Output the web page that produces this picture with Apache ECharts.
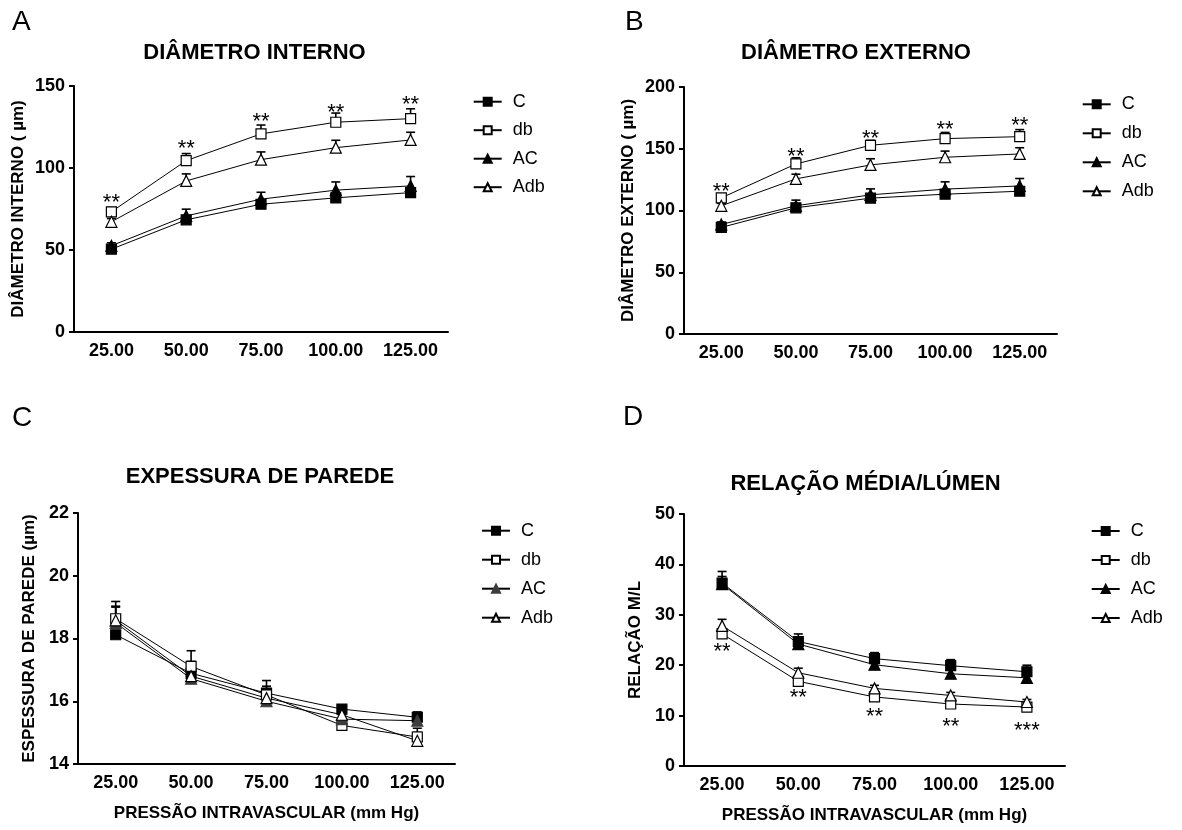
<!DOCTYPE html>
<html><head><meta charset="utf-8">
<script src="https://cdn.jsdelivr.net/npm/echarts@6/dist/echarts.min.js"></script>
<style>html,body{margin:0;padding:0;background:#fff}#chart{width:1182px;height:830px}</style>
</head><body><div id="chart"></div>
<script>
// ---------- DATA ----------
const pressures = ['25.00', '50.00', '75.00', '100.00', '125.00'];
const groups = ['C', 'db', 'AC', 'Adb'];

// Panel A – Diâmetro interno (µm): means and upper SEM
const aC = [50.5, 68.4, 77.9, 81.8, 85.0];
const aCErr = [1.5, 1.5, 1.5, 1.8, 2.0];
const aDb = [73.3, 104.5, 120.8, 127.9, 130.1];
const aDbErr = [2.6, 4.3, 5.4, 5.6, 6.0];
const aAC = [52.6, 70.8, 81.0, 86.5, 89.1];
const aACErr = [1.8, 4.1, 4.2, 5.0, 5.7];
const aAdb = [67.2, 92.1, 105.1, 112.4, 117.1];
const aAdbErr = [2.0, 4.3, 4.7, 4.5, 4.7];
const aStarY = [81.8, 114.5, 131.3, 136.6, 141.3];
const aStars = ['**', '**', '**', '**', '**'];

// Panel B – Diâmetro externo (µm)
const bC = [86.3, 102.2, 110.0, 113.2, 115.6];
const bCErr = [2.0, 3.0, 2.5, 2.5, 2.5];
const bDb = [110.2, 137.7, 152.8, 158.2, 159.8];
const bDbErr = [2.0, 5.0, 4.0, 5.0, 5.7];
const bAC = [88.7, 103.8, 112.7, 117.3, 119.9];
const bACErr = [2.0, 4.6, 4.8, 5.9, 6.0];
const bAdb = [103.8, 125.6, 136.9, 143.1, 145.8];
const bAdbErr = [2.0, 3.8, 5.0, 5.0, 5.0];
const bStarY = [119.1, 147.4, 162.3, 169.5, 172.5];
const bStars = ['**', '**', '**', '**', '**'];

// Panel C – Espessura de parede (µm)
const cC = [18.12, 16.89, 16.26, 15.75, 15.49];
const cCErr = [0.1, 0.38, 0.4, 0.1, 0.17];
const cDb = [18.63, 17.11, 16.2, 15.23, 14.86];
const cDbErr = [0.55, 0.5, 0.28, 0.1, 0.15];
const cAC = [18.5, 16.72, 16.0, 15.43, 15.38];
const cACErr = [0.5, 0.3, 0.25, 0.15, 0.2];
const cAdb = [18.58, 16.8, 16.1, 15.57, 14.74];
const cAdbErr = [0.45, 0.45, 0.3, 0.1, 0.4];

// Panel D – Relação M/L
const dC = [36.3, 24.7, 21.3, 19.9, 18.7];
const dCErr = [2.3, 1.5, 1.2, 1.2, 1.3];
const dDb = [26.2, 16.8, 13.7, 12.3, 11.7];
const dDbErr = [1.0, 0.8, 0.6, 0.5, 0.5];
const dAC = [36.1, 24.2, 20.1, 18.3, 17.5];
const dACErr = [1.5, 1.0, 0.8, 0.8, 0.8];
const dAdb = [27.8, 18.5, 15.4, 14.0, 12.7];
const dAdbErr = [1.3, 0.9, 0.6, 0.6, 0.5];
const dStarY = [23.7, 14.4, 10.8, 8.8, 8.0];
const dStars = ['**', '**', '**', '**', '***'];

// ---------- STYLE ----------
const FONT = 'Liberation Sans, Arial, Helvetica, sans-serif';
const styles = {
  C:   { symbol: 'rect', size: 10, fill: '#000' },
  db:  { symbol: 'rect', size: 10, fill: '#fff' },
  AC:  { symbol: 'triangle', size: 11, fill: '#000' },
  Adb: { symbol: 'triangle', size: 11, fill: '#fff' }
};

const chart = echarts.init(document.getElementById('chart'), null, { renderer: 'canvas' });

const grids = [
  { left: 74, top: 86, width: 374, height: 246 },
  { left: 684, top: 87, width: 373, height: 247 },
  { left: 78, top: 513, width: 377, height: 251 },
  { left: 684, top: 514, width: 381, height: 252 }
];

const yCfg = [
  { min: 0, max: 150, interval: 50, name: 'DIÂMETRO INTERNO ( µm)', gap: 47 },
  { min: 0, max: 200, interval: 50, name: 'DIÂMETRO EXTERNO ( µm)', gap: 47 },
  { min: 14, max: 22, interval: 2, name: 'ESPESSURA DE PAREDE (µm)', gap: 40 },
  { min: 0, max: 50, interval: 10, name: 'RELAÇÃO M/L', gap: 40 }
];

const axisLineStyle = { color: '#000', width: 2 };

const xAxes = grids.map((g, i) => ({
  type: 'category', gridIndex: i, data: pressures, boundaryGap: true,
  axisLine: { lineStyle: axisLineStyle },
  axisTick: { alignWithLabel: true, length: 5, lineStyle: { color: '#000', width: 2 } },
  axisLabel: { color: '#000', fontSize: 18, fontWeight: 'bold', fontFamily: FONT, margin: 10 },
  name: i >= 2 ? 'PRESSÃO INTRAVASCULAR (mm Hg)' : '',
  nameLocation: 'middle', nameGap: 41,
  nameTextStyle: { color: '#000', fontSize: 17, fontWeight: 'bold', fontFamily: FONT },
  splitLine: { show: false }
}));

const yAxes = yCfg.map((c, i) => ({
  type: 'value', gridIndex: i, min: c.min, max: c.max, interval: c.interval,
  axisLine: { show: true, lineStyle: axisLineStyle },
  axisTick: { show: true, length: 5, lineStyle: { color: '#000', width: 2 } },
  axisLabel: { color: '#000', fontSize: 18, fontWeight: 'bold', fontFamily: FONT, margin: 9 },
  splitLine: { show: false },
  name: c.name, nameLocation: 'middle', nameRotate: 90, nameGap: c.gap,
  nameTextStyle: { color: '#000', fontSize: 17, fontWeight: 'bold', fontFamily: FONT }
}));

const panels = [
  { C: [aC, aCErr], db: [aDb, aDbErr], AC: [aAC, aACErr], Adb: [aAdb, aAdbErr], starY: aStarY, stars: aStars },
  { C: [bC, bCErr], db: [bDb, bDbErr], AC: [bAC, bACErr], Adb: [bAdb, bAdbErr], starY: bStarY, stars: bStars },
  { C: [cC, cCErr], db: [cDb, cDbErr], AC: [cAC, cACErr], Adb: [cAdb, cAdbErr], starY: null, stars: null },
  { C: [dC, dCErr], db: [dDb, dDbErr], AC: [dAC, dACErr], Adb: [dAdb, dAdbErr], starY: dStarY, stars: dStars }
];

function errRender(params, api) {
  const i = api.value(0), m = api.value(1), e = api.value(2);
  const base = api.coord([i, m]);
  const top = api.coord([i, m + e]);
  return {
    type: 'group',
    children: [
      { type: 'line', shape: { x1: base[0], y1: base[1], x2: top[0], y2: top[1] }, style: { stroke: '#000', lineWidth: 1.6 } },
      { type: 'line', shape: { x1: top[0] - 4.5, y1: top[1], x2: top[0] + 4.5, y2: top[1] }, style: { stroke: '#000', lineWidth: 1.6 } }
    ]
  };
}

const series = [];
panels.forEach((p, pi) => {
  groups.forEach(gname => {
    const [vals, errs] = p[gname];
    series.push({
      type: 'custom', name: gname + '_err', xAxisIndex: pi, yAxisIndex: pi, z: 1,
      renderItem: errRender, silent: true,
      data: vals.map((v, i) => [i, v, errs[i]])
    });
  });
  groups.forEach(gname => {
    const st = styles[gname];
    const [vals] = p[gname];
    const gray = (pi === 2 && gname === 'AC');
    series.push({
      type: 'line', name: gname, xAxisIndex: pi, yAxisIndex: pi, z: 3,
      data: vals, symbol: st.symbol, symbolSize: st.size, showSymbol: true,
      lineStyle: { color: '#000', width: 1 },
      itemStyle: { color: gray ? '#3c3c3c' : st.fill, borderColor: gray ? '#3c3c3c' : '#000', borderWidth: 1.2 },
      emphasis: { disabled: true }, silent: true
    });
  });
  if (p.starY) {
    const labels = p.stars;
    series.push({
      type: 'custom', name: 'stars' + pi, xAxisIndex: pi, yAxisIndex: pi, z: 4, silent: true,
      data: p.starY.map((v, i) => [i, v]),
      renderItem: (params, api) => {
        const pt = api.coord([api.value(0), api.value(1)]);
        return { type: 'text', x: pt[0], y: pt[1] + 5,
          style: { text: labels[params.dataIndex], fill: '#000', fontSize: 22, fontFamily: FONT, align: 'center', verticalAlign: 'middle' } };
      }
    });
  }
});

function legend(left, top, gap, gray) {
  return {
    orient: 'vertical', left: left, top: top, itemWidth: 28, itemHeight: 10, itemGap: gap,
    padding: 0, selectedMode: false,
    data: groups.map(g => (gray && g === 'AC') ? { name: g, itemStyle: { color: '#3c3c3c', borderColor: '#3c3c3c' } } : g),
    textStyle: { color: '#000', fontSize: 18, fontFamily: FONT, lineHeight: 18, padding: [0, 0, 0, 6] }
  };
}

function txt(x, y, text, size, weight) {
  return { type: 'text', x: x, y: y, style: { text: text, fontSize: size, fontWeight: weight, fontFamily: FONT, fill: '#000', align: 'center', verticalAlign: 'middle' } };
}
function letter(x, y, text) {
  return { type: 'text', x: x, y: y, style: { text: text, fontSize: 28, fontFamily: FONT, fill: '#000', align: 'left', verticalAlign: 'middle' } };
}

chart.setOption({
  animation: false,
  backgroundColor: '#fff',
  grid: grids,
  xAxis: xAxes,
  yAxis: yAxes,
  legend: [
    legend(472.7, 92.7, 10.5, false),
    legend(1081.7, 95.3, 11, false),
    legend(481, 521.7, 11, true),
    legend(1090.7, 522, 11, false)
  ],
  graphic: [
    letter(12, 22.5, 'A'),
    letter(625, 22.5, 'B'),
    letter(12, 418, 'C'),
    letter(623, 417, 'D'),
    txt(254.5, 53, 'DIÂMETRO INTERNO', 22, 'bold'),
    txt(856, 53, 'DIÂMETRO EXTERNO', 22, 'bold'),
    txt(260, 477, 'EXPESSURA DE PAREDE', 22, 'bold'),
    txt(865.5, 484, 'RELAÇÃO MÉDIA/LÚMEN', 22, 'bold')
  ],
  series: series
});
</script></body></html>
